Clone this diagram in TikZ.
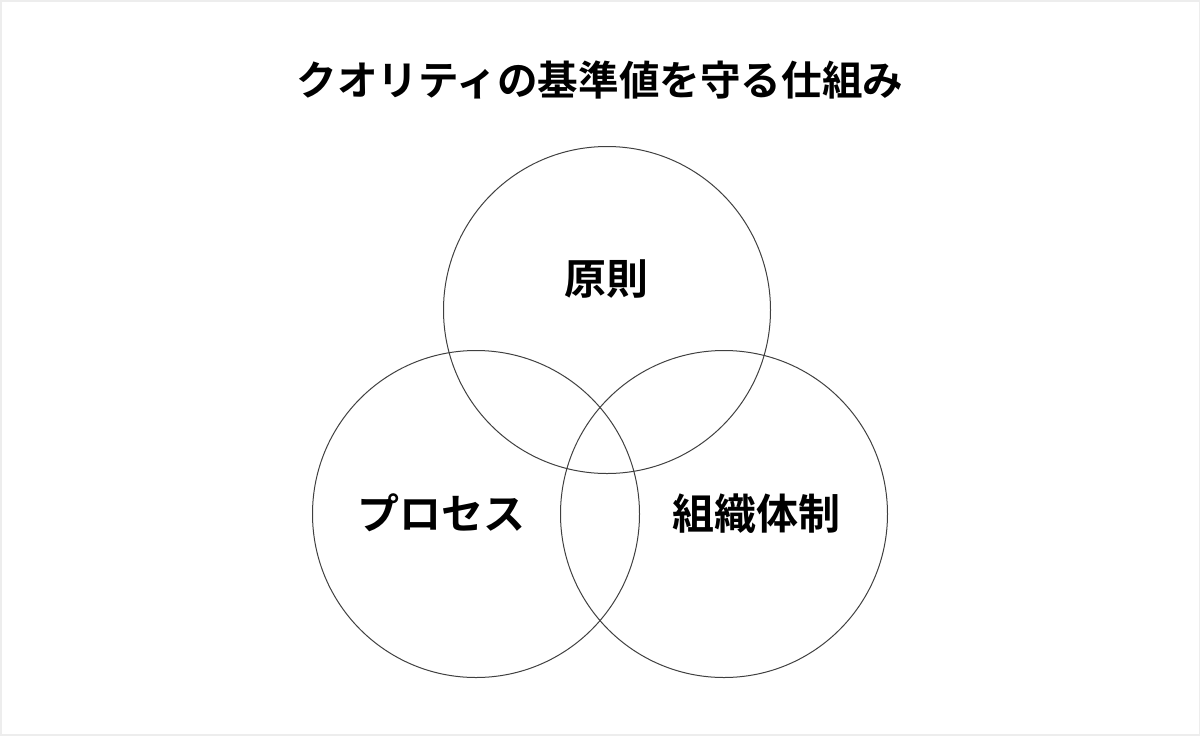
\documentclass[tikz,border=0pt]{standalone}
\usepackage{fontspec}
\newfontfamily\jpfont{Noto Sans CJK JP}[BoldFont={* Bold}]
\usetikzlibrary{positioning}

\begin{document}
\begin{tikzpicture}[x=0.5pt,y=-0.5pt,
		ring/.style={circle,draw=black!75,line width=0.5pt,minimum size=163.5pt,inner sep=0pt},
		rotulo/.style={font=\jpfont\bfseries\fontsize{21pt}{25pt}\selectfont,inner sep=0pt},
		titulo/.style={font=\jpfont\bfseries\fontsize{20.3pt}{24pt}\selectfont,inner sep=0pt}]
			\useasboundingbox (0,0) rectangle (1200,735);
			\draw[color=black!7,line width=1pt] (0.5,0.5) rectangle (1199.5,734.5);
			%titulo
			\node[titulo] (titulo) at (600,80) {クオリティの基準値を守る仕組み};
			%circulos
			\node[ring] (gensoku) at (607,310) {};
			\node[ring] (process) at (476,514) {};
			\node[ring] (soshiki) at (724,514) {};
			%rotulos
			\node[rotulo] (lgensoku) at (606,279) {原則};
			\node[rotulo] (lprocess) at (441,513) {プロセス};
			\node[rotulo] (lsoshiki) at (756,514) {組織体制};
		\end{tikzpicture}
\end{document}
